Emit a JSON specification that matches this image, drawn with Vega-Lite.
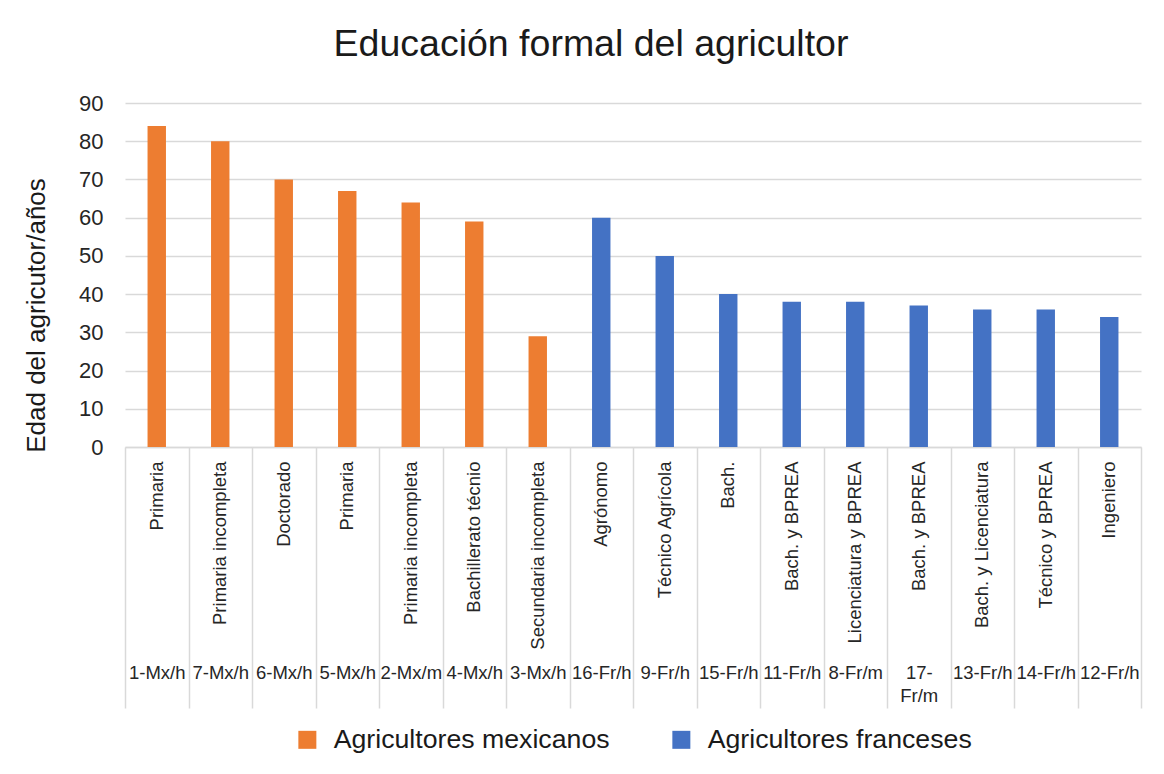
{
  "$schema": "https://vega.github.io/schema/vega-lite/v6.json",
  "width": 1016,
  "height": 344,
  "autosize": {"type": "none"},
  "padding": {"left": 125, "top": 103, "right": 23, "bottom": 327},
  "background": "white",
  "title": {
    "text": "Educación formal del agricultor",
    "font": "Liberation Sans",
    "fontSize": 37.5,
    "fontWeight": "normal",
    "color": "#1a1a1a",
    "anchor": "middle",
    "frame": "group",
    "baseline": "alphabetic",
    "dx": -42,
    "offset": -1
  },
  "data": {
    "values": [
      {"categoria": "Primaria|1-Mx/h", "nivel": "Primaria", "id": "1-Mx/h", "grupo": "Agricultores mexicanos", "edad": 84},
      {"categoria": "Primaria incompleta|7-Mx/h", "nivel": "Primaria incompleta", "id": "7-Mx/h", "grupo": "Agricultores mexicanos", "edad": 80},
      {"categoria": "Doctorado|6-Mx/h", "nivel": "Doctorado", "id": "6-Mx/h", "grupo": "Agricultores mexicanos", "edad": 70},
      {"categoria": "Primaria|5-Mx/h", "nivel": "Primaria", "id": "5-Mx/h", "grupo": "Agricultores mexicanos", "edad": 67},
      {"categoria": "Primaria incompleta|2-Mx/m", "nivel": "Primaria incompleta", "id": "2-Mx/m", "grupo": "Agricultores mexicanos", "edad": 64},
      {"categoria": "Bachillerato técnio|4-Mx/h", "nivel": "Bachillerato técnio", "id": "4-Mx/h", "grupo": "Agricultores mexicanos", "edad": 59},
      {"categoria": "Secundaria incompleta|3-Mx/h", "nivel": "Secundaria incompleta", "id": "3-Mx/h", "grupo": "Agricultores mexicanos", "edad": 29},
      {"categoria": "Agrónomo|16-Fr/h", "nivel": "Agrónomo", "id": "16-Fr/h", "grupo": "Agricultores franceses", "edad": 60},
      {"categoria": "Técnico Agrícola|9-Fr/h", "nivel": "Técnico Agrícola", "id": "9-Fr/h", "grupo": "Agricultores franceses", "edad": 50},
      {"categoria": "Bach.|15-Fr/h", "nivel": "Bach.", "id": "15-Fr/h", "grupo": "Agricultores franceses", "edad": 40},
      {"categoria": "Bach. y BPREA|11-Fr/h", "nivel": "Bach. y BPREA", "id": "11-Fr/h", "grupo": "Agricultores franceses", "edad": 38},
      {"categoria": "Licenciatura y BPREA|8-Fr/m", "nivel": "Licenciatura y BPREA", "id": "8-Fr/m", "grupo": "Agricultores franceses", "edad": 38},
      {"categoria": "Bach. y BPREA|17-Fr/m", "nivel": "Bach. y BPREA", "id": "17-Fr/m", "grupo": "Agricultores franceses", "edad": 37},
      {"categoria": "Bach. y Licenciatura|13-Fr/h", "nivel": "Bach. y Licenciatura", "id": "13-Fr/h", "grupo": "Agricultores franceses", "edad": 36},
      {"categoria": "Técnico y BPREA|14-Fr/h", "nivel": "Técnico y BPREA", "id": "14-Fr/h", "grupo": "Agricultores franceses", "edad": 36},
      {"categoria": "Ingeniero|12-Fr/h", "nivel": "Ingeniero", "id": "12-Fr/h", "grupo": "Agricultores franceses", "edad": 34}
    ]
  },
  "encoding": {
    "y": {
      "field": "edad",
      "type": "quantitative",
      "scale": {"domain": [0, 90]},
      "axis": {
        "title": "Edad del agricutor/años",
        "titleFont": "Liberation Sans",
        "titleFontSize": 26,
        "titleFontWeight": "normal",
        "titleColor": "#1a1a1a",
        "titleAngle": -90,
        "titleX": -89,
        "titleY": 212,
        "titleAlign": "center",
        "titleBaseline": "middle",
        "values": [0, 10, 20, 30, 40, 50, 60, 70, 80, 90],
        "labelFont": "Liberation Sans",
        "labelFontSize": 22,
        "labelColor": "#262626",
        "labelPadding": 22,
        "ticks": false,
        "domain": false,
        "grid": true,
        "gridColor": "#d9d9d9",
        "gridWidth": 1.5
      }
    }
  },
  "layer": [
    {
      "mark": {"type": "bar", "width": {"band": 0.29}},
      "encoding": {
        "x": {
          "field": "categoria",
          "type": "nominal",
          "sort": null,
          "scale": {"paddingInner": 0, "paddingOuter": 0},
          "axis": {
            "orient": "bottom",
            "title": null,
            "labelExpr": "split(datum.value, '|')[0]",
            "labelAngle": -90,
            "labelAlign": "right",
            "labelBaseline": "middle",
            "labelPadding": 14,
            "labelFont": "Liberation Sans",
            "labelFontSize": 18.5,
            "labelColor": "#262626",
            "labelOverlap": false,
            "labelLimit": 0,
            "ticks": false,
            "domain": true,
            "domainColor": "#d9d9d9",
            "domainWidth": 1.5,
            "grid": false
          }
        },
        "color": {
          "field": "grupo",
          "type": "nominal",
          "scale": {
            "domain": ["Agricultores mexicanos", "Agricultores franceses"],
            "range": ["#ED7D31", "#4472C4"]
          },
          "legend": {
            "title": null,
            "orient": "none",
            "legendX": 169,
            "legendY": 623,
            "direction": "horizontal",
            "symbolType": "square",
            "symbolSize": 324,
            "symbolStrokeWidth": 0,
            "labelFont": "Liberation Sans",
            "labelFontSize": 26.7,
            "labelColor": "#1a1a1a",
            "labelLimit": 0,
            "labelOffset": 13,
            "columnPadding": 58
          }
        }
      }
    },
    {
      "mark": {"type": "bar", "opacity": 0},
      "encoding": {
        "x": {
          "field": "categoria",
          "type": "nominal",
          "sort": null,
          "axis": {
            "orient": "bottom",
            "title": null,
            "labelExpr": "datum.value == 'Bach. y BPREA|17-Fr/m' ? ['17-', 'Fr/m'] : split(datum.value, '|')[1]",
            "labelAngle": 0,
            "labelAlign": "center",
            "labelBaseline": "top",
            "labelPadding": -45,
            "labelFont": "Liberation Sans",
            "labelFontSize": 18.5,
            "labelColor": "#262626",
            "labelLineHeight": 23,
            "labelOverlap": false,
            "labelLimit": 0,
            "tickBand": "extent",
            "tickSize": 261,
            "tickColor": "#d9d9d9",
            "tickWidth": 1.5,
            "domain": false,
            "grid": false
          }
        }
      }
    }
  ],
  "resolve": {"axis": {"x": "independent"}},
  "config": {
    "view": {"stroke": null}
  }
}
